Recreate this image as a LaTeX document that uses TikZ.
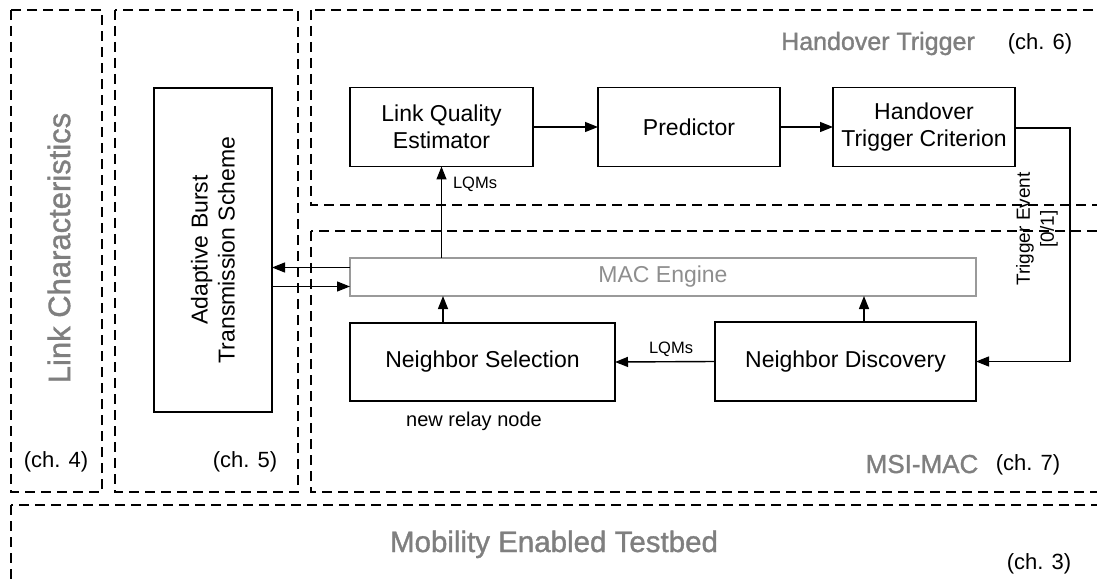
\documentclass[tikz,border=0pt]{standalone}
\usepackage{fontspec}
\setmainfont{Liberation Sans}
\usetikzlibrary{arrows.meta}
\definecolor{labelgray}{HTML}{7F7F7F}
\definecolor{macgray}{HTML}{8E8E8E}
\definecolor{macborder}{HTML}{9A9A9A}

\begin{document}
\begin{tikzpicture}[x=1pt,y=-1pt,
  region/.style={draw=black, line width=1.2pt, dash pattern=on 10pt off 6pt},
  block/.style={draw=black, line width=1.5pt, inner sep=0pt, outer sep=0pt,
    align=center, font=\fontsize{23}{27}\selectfont},
  arr/.style={line width=1.4pt, -{Triangle[length=13pt,width=10pt]}},
  regionlabel/.style={text=labelgray, inner sep=0pt},
  chlabel/.style={font=\fontsize{22}{26}\selectfont, inner sep=0pt, anchor=base},
  small/.style={font=\fontsize{16.5}{20}\selectfont, inner sep=0pt, anchor=base}
]
\useasboundingbox (0,0) rectangle (1097,585);

% dashed regions (chapters)
\begin{scope}
  \clip (0,0) rectangle (1097,585);
  \draw[region] (11,10) rectangle (102,492);
  \draw[region] (115,10) rectangle (298,492);
  \draw[region] (311,10) rectangle (1115,205);
  \draw[region] (311,231) rectangle (1115,492);
  \draw[region] (11,505) rectangle (1115,610);
\end{scope}

% region titles (slightly heavier grey lettering)
\node[regionlabel, rotate=90, font=\fontsize{31}{36}\selectfont\addfontfeature{FakeBold=1.2}] (lctitle) at (59,248) {Link Characteristics};
\node[regionlabel, anchor=base, font=\fontsize{25}{30}\selectfont\addfontfeature{FakeBold=1.2}] (httitle) at (878,50) {Handover Trigger};
\node[regionlabel, anchor=base, font=\fontsize{26}{30}\selectfont\addfontfeature{FakeBold=1.2}] (msititle) at (922,473) {MSI-MAC};
\node[regionlabel, anchor=base, font=\fontsize{29.5}{34}\selectfont\addfontfeature{FakeBold=1.2}] (mobtitle) at (554,552) {Mobility Enabled Testbed};

% chapter references
\node[chlabel] (ch6) at (1040,50) {(ch. 6)};
\node[chlabel] (ch4) at (56,467) {(ch. 4)};
\node[chlabel] (ch5) at (245,467) {(ch. 5)};
\node[chlabel] (ch7) at (1028,470) {(ch. 7)};
\node[chlabel] (ch3) at (1039,569) {(ch. 3)};

% function blocks
\node[block, minimum width=118pt, minimum height=324pt] (abts) at (213,250) {};
\node[rotate=90, align=center, inner sep=0pt, font=\fontsize{23}{27}\selectfont] (abtstext) at (abts.center) {Adaptive Burst\\Transmission Scheme};

\node[block, minimum width=183pt, minimum height=79pt] (lqe) at (441.5,127) {Link Quality\\Estimator};
\node[block, minimum width=182pt, minimum height=79pt] (pred) at (689,127) {Predictor};
\node[block, minimum width=182pt, minimum height=79pt] (htc) at (924,127) {Handover\\Trigger Criterion};

\node[draw=macborder, line width=1.2pt, inner sep=0pt, outer sep=0pt,
  minimum width=626pt, minimum height=38pt, text=macgray,
  font=\fontsize{23}{27}\selectfont] (mac) at (663,277) {MAC Engine};

\node[block, minimum width=265pt, minimum height=78pt] (ns) at (482.5,362) {Neighbor Selection};
\node[block, minimum width=261pt, minimum height=79pt] (nd) at (845.5,361.5) {Neighbor Discovery};

% helper coordinates for connector routes
\coordinate (bend) at (1070,0);
\coordinate (nsup) at (443,0);
\coordinate (ndup) at (864,0);
\coordinate (macin) at ([yshift=9.5pt]mac.west);
\coordinate (macout) at ([yshift=-9.5pt]mac.west);

% connectors
\draw[arr] (lqe.east) -- (pred.west);
\draw[arr] (pred.east) -- (htc.west);
\draw[arr] ([yshift=-1pt]htc.east) -- ([yshift=-1pt]htc.east -| bend) -- (nd.east -| bend) -- (nd.east);
\draw[arr] (lqe.south |- mac.north) -- (lqe.south);
\draw[arr] (ns.north -| nsup) -- (mac.south -| nsup);
\draw[arr] (nd.north -| ndup) -- (mac.south -| ndup);
\draw[arr] (nd.west) -- (ns.east);
\draw[arr] (macin) -- (macin -| abts.east);
\draw[arr] (macout -| abts.east) -- (macout);

% connector labels
\node[small] (lqm1) at (475,189) {LQMs};
\node[small] (lqm2) at (671,353) {LQMs};
\node[font=\fontsize{20}{24}\selectfont, inner sep=0pt, anchor=base] (relay) at (474,426) {new relay node};
\node[rotate=90, align=center, inner sep=0pt, font=\fontsize{19}{24}\selectfont] (trig) at (1037,229) {Trigger Event\\{[0/1]}};
\end{tikzpicture}
\end{document}
